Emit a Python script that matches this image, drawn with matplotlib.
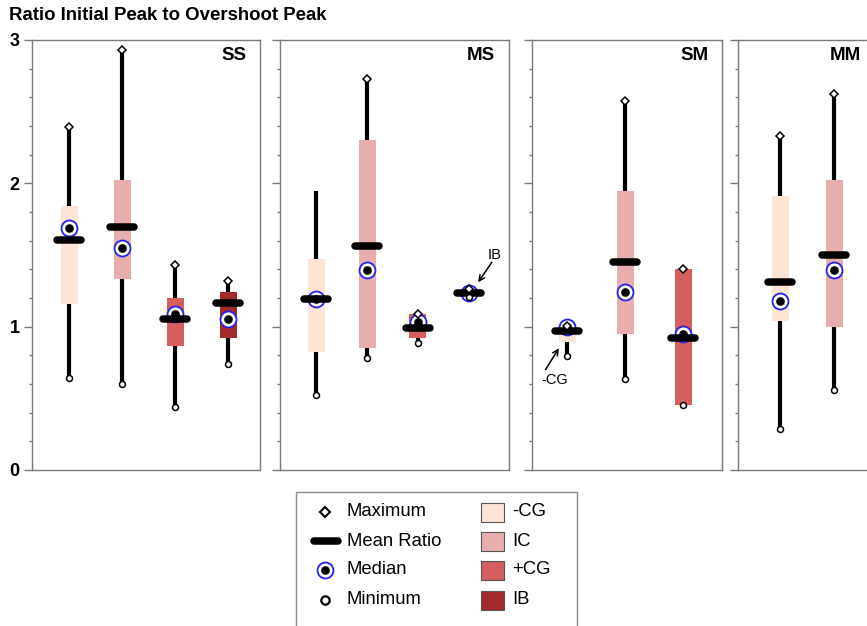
import matplotlib
matplotlib.use("Agg")
import matplotlib.pyplot as plt
import numpy as np
from matplotlib.patches import Rectangle

plt.rcParams['font.family'] = ['Liberation Sans', 'DejaVu Sans']

W, H = 867, 626

# ---------------- data ----------------
colors = {"-CG": "#FDE4D4", "IC": "#E8AEAE", "+CG": "#D55E5E", "IB": "#A32A2A"}

ss_groups = ["-CG", "IC", "+CG", "IB"]
ss_max = [2.39, 2.93, 1.43, 1.32]
ss_top = [1.84, 2.02, 1.20, 1.24]
ss_bottom = [1.16, 1.33, 0.865, 0.92]
ss_mean = [1.605, 1.695, 1.055, 1.165]
ss_median = [1.69, 1.55, 1.09, 1.055]
ss_min = [0.64, 0.60, 0.44, 0.74]

ms_groups = ["-CG", "IC", "+CG", "IB"]
ms_max = [1.95, 2.73, 1.09, 1.26]
ms_top = [1.47, 2.30, 1.09, 1.25]
ms_bottom = [0.82, 0.85, 0.92, 1.22]
ms_mean = [1.19, 1.56, 0.99, 1.235]
ms_median = [1.19, 1.395, 1.03, 1.235]
ms_min = [0.52, 0.78, 0.885, 1.21]
ms_max_marked = [False, True, True, True]

sm_groups = ["-CG", "IC", "+CG"]
sm_max = [1.005, 2.575, 1.40]
sm_top = [0.99, 1.95, 1.40]
sm_bottom = [0.89, 0.95, 0.455]
sm_mean = [0.97, 1.45, 0.92]
sm_median = [1.00, 1.24, 0.95]
sm_min = [0.795, 0.635, 0.455]

mm_groups = ["-CG", "IC"]
mm_max = [2.33, 2.62]
mm_top = [1.91, 2.02]
mm_bottom = [1.04, 1.00]
mm_mean = [1.31, 1.50]
mm_median = [1.18, 1.395]
mm_min = [0.285, 0.56]

panel_names = ["SS", "MS", "SM", "MM"]

# ---------------- layout (pixels) ----------------
# left px, right px, px offset of first box centre, px spacing
layout = [(32, 260, 37, 53), (280, 509, 36, 51), (532, 722, 35, 58), (738, 875, 42, 54)]
y_top, y_bot = 40, 470

fig = plt.figure(figsize=(W / 100, H / 100), dpi=100)

fig.text(9 / W, 1 - 16 / H, "Ratio Initial Peak to Overshoot Peak", fontsize=13.4,
         fontweight='bold', ha='left', va='center')

spine_col = '#7a7a7a'
BLUE = '#2222EE'


def draw(ax, groups, vmax, top, bot, mean, med, vmin, ppu, max_marked=None):
    x = np.arange(1, len(groups) + 1)
    bw = 17 / ppu
    mw = 24 / ppu
    for i, g in enumerate(groups):
        ax.vlines(x[i], vmin[i], vmax[i], color='k', lw=3, zorder=1)
        ax.bar(x[i], top[i] - bot[i], bottom=bot[i], width=bw, color=colors[g], zorder=2)
        ax.plot(x[i], med[i], 'o', ms=11.5, mfc='white', mec=BLUE, mew=1.3, zorder=3)
        ax.plot(x[i], med[i], 'o', ms=5.2, color='k', zorder=3.1)
        ax.plot([x[i] - mw / 2, x[i] + mw / 2], [mean[i], mean[i]], color='k', lw=5.4,
                solid_capstyle='round', zorder=4)
        if max_marked is None or max_marked[i]:
            ax.plot(x[i], vmax[i], 'D', ms=3.6, mfc='white', mec='k', mew=1.1, zorder=5)
        ax.plot(x[i], vmin[i], 'o', ms=4.3, mfc='white', mec='k', mew=1.1, zorder=5)


data = [
    (ss_groups, ss_max, ss_top, ss_bottom, ss_mean, ss_median, ss_min, None),
    (ms_groups, ms_max, ms_top, ms_bottom, ms_mean, ms_median, ms_min, ms_max_marked),
    (sm_groups, sm_max, sm_top, sm_bottom, sm_mean, sm_median, sm_min, None),
    (mm_groups, mm_max, mm_top, mm_bottom, mm_mean, mm_median, mm_min, None),
]

axes = []
for k, ((l, r, off, sp), d, name) in enumerate(zip(layout, data, panel_names)):
    ax = fig.add_axes([l / W, 1 - y_bot / H, (r - l) / W, (y_bot - y_top) / H])
    axes.append(ax)
    x0 = 1 - off / sp
    ax.set_xlim(x0, x0 + (r - l) / sp)
    ax.set_ylim(0, 3)
    draw(ax, *d[:7], ppu=sp, max_marked=d[7])
    ax.set_xticks([])
    ax.set_yticks([0, 1, 2, 3])
    ax.set_yticks(np.arange(0, 3.01, 0.2), minor=True)
    ax.tick_params(axis='y', which='major', length=6, width=1, color=spine_col, pad=3,
                   labelsize=13)
    ax.tick_params(axis='y', which='minor', length=2.5, width=1, color=spine_col)
    if k == 0:
        for t in ax.get_yticklabels():
            t.set_fontweight('bold')
    else:
        ax.set_yticklabels([])
    for s in ax.spines.values():
        s.set_color(spine_col)
        s.set_linewidth(1)
    ax.annotate(name, xy=(1, 1), xycoords='axes fraction', xytext=(-10, -11),
                textcoords='offset points', ha='right', va='center', fontsize=13.5,
                fontweight='bold')

# annotations (text + arrow)
axes[1].text(4.50, 1.50, "IB", fontsize=10.5, ha='center', va='center')
axes[1].annotate("", xy=(4.18, 1.31), xytext=(4.45, 1.45),
                 arrowprops=dict(arrowstyle='->', color='k', lw=1.1, shrinkA=0, shrinkB=0))
axes[2].text(0.79, 0.63, "-CG", fontsize=10.5, ha='center', va='center')
axes[2].annotate("", xy=(0.86, 0.85), xytext=(0.63, 0.70),
                 arrowprops=dict(arrowstyle='->', color='k', lw=1.1, shrinkA=0, shrinkB=0))

# ---------------- legend ----------------
lg = fig.add_axes([0, 0, 1, 1], zorder=10)
lg.set_xlim(0, W)
lg.set_ylim(H, 0)
lg.axis('off')
lg.patch.set_alpha(0)
lg.add_patch(Rectangle((296, 492), 281, 150, fc='white', ec='#8a8a8a', lw=1))
rows = [512, 541, 570, 600]
fs = 13.3
lg.plot(325, rows[0], 'D', ms=5, mfc='white', mec='k', mew=1.5)
lg.plot([314, 338], [rows[1], rows[1]], color='k', lw=5.4, solid_capstyle='round')
lg.plot(325, rows[2], 'o', ms=11.5, mfc='white', mec=BLUE, mew=1.3)
lg.plot(325, rows[2], 'o', ms=5.2, color='k')
lg.plot(325, rows[3], 'o', ms=6, mfc='white', mec='k', mew=1.6)
for yy, lab in zip(rows, ["Maximum", "Mean Ratio", "Median", "Minimum"]):
    lg.text(347, yy, lab, fontsize=fs, ha='left', va='center')
for yy, g in zip(rows, ss_groups):
    lg.add_patch(Rectangle((481, yy - 9.5), 23, 19, fc=colors[g], ec='#555555', lw=0.8))
    lg.text(512, yy, g, fontsize=fs, ha='left', va='center')

fig.savefig("out.png", dpi=100)
